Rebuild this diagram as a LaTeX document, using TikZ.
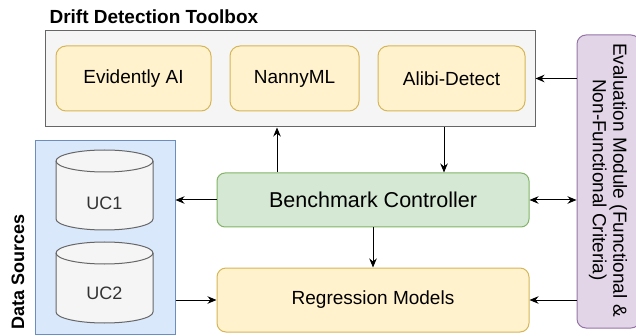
\documentclass[tikz,border=0pt]{standalone}
\usepackage{fontspec}
\setmainfont{Liberation Sans}
\usetikzlibrary{arrows.meta,calc}
\definecolor{grayfill}{HTML}{F5F5F5}
\definecolor{graystroke}{HTML}{666666}
\definecolor{yelfill}{HTML}{FFF2CC}
\definecolor{yelstroke}{HTML}{D6B656}
\definecolor{grnfill}{HTML}{D5E8D4}
\definecolor{grnstroke}{HTML}{82B366}
\definecolor{bluefill}{HTML}{DAE8FC}
\definecolor{bluestroke}{HTML}{6C8EBF}
\definecolor{purfill}{HTML}{E1D5E7}
\definecolor{purstroke}{HTML}{9673A6}
\definecolor{cyltext}{HTML}{333333}
\tikzset{
  boxbase/.style={rectangle, line width=1pt, inner sep=0pt, align=center},
  toolstyle/.style={boxbase, fill=grayfill, draw=graystroke},
  libbox/.style={boxbase, rounded corners=10pt, fill=yelfill, draw=yelstroke, minimum height=65pt, font=\fontsize{19}{22}\selectfont},
  ctrlbox/.style={boxbase, rounded corners=8pt, fill=grnfill, draw=grnstroke, font=\fontsize{21.5}{24}\selectfont},
  regbox/.style={boxbase, rounded corners=9pt, fill=yelfill, draw=yelstroke, font=\fontsize{19}{22}\selectfont},
  srcbox/.style={boxbase, fill=bluefill, draw=bluestroke},
  evalbox/.style={boxbase, rounded corners=9pt, fill=purfill, draw=purstroke},
  cyl/.style={line width=1pt, fill=grayfill, draw=graystroke},
  cyllabel/.style={text=cyltext, font=\fontsize{18}{21}\selectfont},
  boldlabel/.style={font=\bfseries\fontsize{19}{22}\selectfont},
  arr/.style={line width=1pt, -{Stealth[length=9pt,width=7.5pt]}},
  darr/.style={line width=1pt, {Stealth[length=9pt,width=7.5pt]}-{Stealth[length=9pt,width=7.5pt]}}
}
\begin{document}
\begin{tikzpicture}[x=1pt,y=-1pt]
\useasboundingbox (0,0) rectangle (636,336);
\clip (0,0) rectangle (636,336);

% Toolbox
\node[boldlabel, anchor=west] (title) at (46,17) {Drift Detection Toolbox};
\node[toolstyle, minimum width=490pt, minimum height=96pt] (toolbox) at (290,79) {};
\node[libbox, minimum width=155pt] (ev) at (133.5,78.5) {Evidently AI};
\node[libbox, minimum width=129pt] (nanny) at (294.5,78.5) {NannyML};
\node[libbox, minimum width=147pt] (alibi) at (451.5,78.5) {Alibi-Detect};

% Evaluation module
\node[evalbox, minimum width=63pt, minimum height=293pt] (eval) at (608.5,181.5) {};
\node[rotate=-90, align=center, font=\fontsize{19}{20.5}\selectfont] (evaltext) at (608,180)
  {Evaluation Module (Functional \&\\Non-Functional Criteria)};

% Data sources
\node[srcbox, minimum width=140pt, minimum height=193pt] (data) at (105,237.5) {};
\node[boldlabel, rotate=90, font=\bfseries\fontsize{18}{21}\selectfont] (datalabel) at (18,271.5) {Data Sources};

% Cylinders
\draw[cyl] (56,161) -- (56,219) arc[start angle=180,end angle=360,x radius=48.5pt,y radius=11pt]
  -- (153,161) arc[start angle=0,end angle=180,x radius=48.5pt,y radius=11pt] -- cycle;
\draw[cyl, fill=none] (56,161) arc[start angle=180,end angle=360,x radius=48.5pt,y radius=11pt];
\node[cyllabel] (uc1) at (104.5,203) {UC1};

\draw[cyl] (56,253) -- (56,312) arc[start angle=180,end angle=360,x radius=48.5pt,y radius=11pt]
  -- (153,253) arc[start angle=0,end angle=180,x radius=48.5pt,y radius=11pt] -- cycle;
\draw[cyl, fill=none] (56,253) arc[start angle=180,end angle=360,x radius=48.5pt,y radius=11pt];
\node[cyllabel] (uc2) at (104.5,293) {UC2};

% Controller and models
\node[ctrlbox, minimum width=312pt, minimum height=54pt] (ctrl) at (373,200) {Benchmark Controller};
\node[regbox, minimum width=312pt, minimum height=64pt] (reg) at (373,300) {Regression Models};

% Connectors
\coordinate (cup) at (277,0);
\coordinate (cdown) at (444,0);
\draw[arr] (ctrl.north -| cup) -- (toolbox.south -| cup);
\draw[arr] (toolbox.south -| cdown) -- (ctrl.north -| cdown);
\draw[arr] (eval.west |- alibi) -- (toolbox.east |- alibi);
\draw[darr] (ctrl.east) -- (eval.west |- ctrl);
\draw[arr] (ctrl.west) -- (data.east |- ctrl);
\draw[arr] (data.east |- reg) -- (reg.west);
\draw[arr] (eval.west |- reg) -- (reg.east);
\draw[arr] (ctrl.south) -- (reg.north);
\end{tikzpicture}
\end{document}
